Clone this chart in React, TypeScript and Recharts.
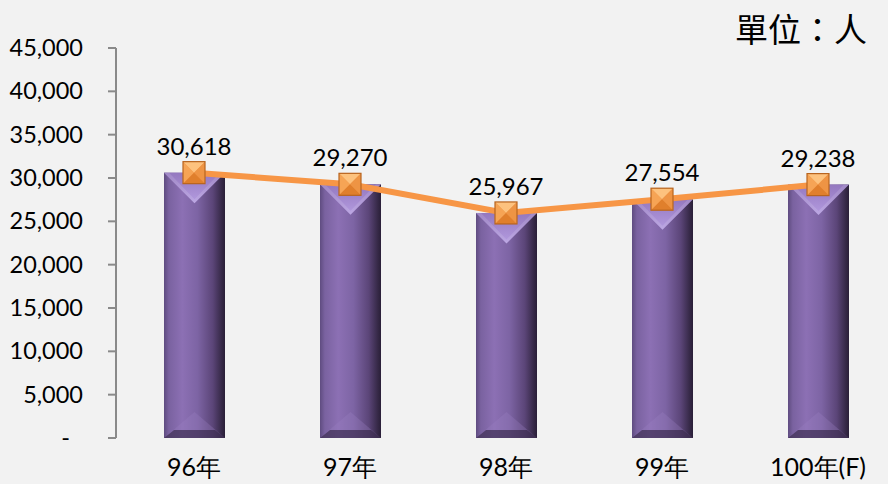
import React from "react";
import { ComposedChart, Bar, Line, XAxis, YAxis, LabelList } from "recharts";

const categories = ["96年", "97年", "98年", "99年", "100年(F)"];
const people = [30618, 29270, 25967, 27554, 29238];
const yTicks = [0, 5000, 10000, 15000, 20000, 25000, 30000, 35000, 40000, 45000];

const data = categories.map((c, i) => ({ name: c, bar: people[i], line: people[i] }));

const FONT = "Lato, 'Noto Sans', sans-serif";

const fmt = (v: number) => v.toLocaleString("en-US");

const YTick = (props: any) => {
  const { x, y, payload } = props;
  const v = payload.value as number;
  if (v === 0) {
    return (
      <text x={x - 13} y={y} dy={8} textAnchor="end" fontFamily={FONT} fontSize={23.5} fill="#000">
        -
      </text>
    );
  }
  return (
    <text x={x} y={y} dy={8} textAnchor="end" fontFamily={FONT} fontSize={23.5} fill="#000">
      {fmt(v)}
    </text>
  );
};

const BarShape = (props: any) => {
  const { x, y, width, height } = props;
  if (!height || height <= 0) return null;
  const b = y + height;
  const tb = Math.min(width * 0.5, 32);
  return (
    <g>
      <rect x={x} y={y} width={width} height={height} fill="url(#barGrad)" />
      <polygon points={`${x},${y} ${x + width},${y} ${x + width / 2},${y + tb}`} fill="url(#topGrad)" />
      <polygon points={`${x},${y} ${x + 5},${y} ${x + width / 2},${y + tb - 4} ${x + width - 5},${y} ${x + width},${y} ${x + width / 2},${y + tb}`} fill="#ffffff" opacity={0.12} />
      <polygon points={`${x},${b} ${x + width / 2},${b - 26} ${x + width},${b}`} fill="#9b82c2" opacity={0.3} />
      <polygon points={`${x},${b} ${x + 10},${b - 8} ${x + width - 10},${b - 8} ${x + width},${b}`} fill="#2e2240" opacity={0.6} />
    </g>
  );
};

const Marker = (props: any) => {
  const { cx, cy } = props;
  if (cx == null || cy == null) return null;
  const h = 11;
  const l = cx - h, r = cx + h, t = cy - h, bt = cy + h;
  return (
    <g>
      <rect x={l} y={t} width={h * 2} height={h * 2} fill="#f09a4c" />
      <polygon points={`${l},${t} ${r},${t} ${cx},${cy}`} fill="#fdc27e" />
      <polygon points={`${l},${t} ${cx},${cy} ${l},${bt}`} fill="#f6a455" />
      <polygon points={`${r},${t} ${cx},${cy} ${r},${bt}`} fill="#ee9444" />
      <polygon points={`${l},${bt} ${cx},${cy} ${r},${bt}`} fill="#e07f2c" />
      <rect x={l} y={t} width={h * 2} height={h * 2} fill="none" stroke="#b8641f" strokeWidth={1.2} />
    </g>
  );
};

export default function App() {
  return (
    <div
      style={{
        position: "absolute",
        left: 0,
        top: 0,
        width: 888,
        height: 484,
        overflow: "hidden",
        background: "#f2f2f2",
      }}
    >
      <div
        style={{
          position: "absolute",
          left: 735,
          top: 4,
          fontFamily: "'Noto Sans CJK TC', sans-serif",
          fontSize: 33,
          color: "#000",
          whiteSpace: "nowrap",
          lineHeight: "48px",
        }}
      >
        單位：人
      </div>
      <ComposedChart
        width={900}
        height={484}
        data={data}
        margin={{ top: 48, right: 4, bottom: 16, left: 0 }}
      >
        <defs>
          <linearGradient id="barGrad" x1="0" y1="0" x2="1" y2="0">
            <stop offset="0" stopColor="#5f4c80" />
            <stop offset="0.08" stopColor="#7a62a0" />
            <stop offset="0.3" stopColor="#8c70b4" />
            <stop offset="0.55" stopColor="#7d64a4" />
            <stop offset="0.8" stopColor="#5b4578" />
            <stop offset="0.95" stopColor="#352846" />
            <stop offset="1" stopColor="#2a1f38" />
          </linearGradient>
          <linearGradient id="topGrad" x1="0" y1="0" x2="0" y2="1">
            <stop offset="0" stopColor="#9478bf" />
            <stop offset="1" stopColor="#b49ce0" />
          </linearGradient>
        </defs>
        <XAxis
          dataKey="name"
          xAxisId="cat"
          height={30}
          axisLine={false}
          tickLine={false}
          tickSize={0}
          tickMargin={20}
          interval={0}
          tick={{ fontFamily: FONT, fontSize: 25, fill: "#000" }}
        />
        <XAxis
          xAxisId="grid"
          type="number"
          domain={[0, 5]}
          ticks={[0, 1, 2, 3, 4, 5]}
          allowDataOverflow
          tick={false}
          tickSize={9}
          height={0}
          axisLine={{ stroke: "#8a8a8a", strokeWidth: 2 }}
          tickLine={{ stroke: "#8a8a8a", strokeWidth: 2 }}
        />
        <YAxis
          width={116}
          domain={[0, 45000]}
          ticks={yTicks}
          interval={0}
          tickSize={8}
          tickMargin={25}
          axisLine={{ stroke: "#8a8a8a", strokeWidth: 2 }}
          tickLine={{ stroke: "#8a8a8a", strokeWidth: 2 }}
          tick={<YTick />}
        />
        <Bar
          dataKey="bar"
          xAxisId="cat"
          barSize={61}
          shape={<BarShape />}
          isAnimationActive={false}
        />
        <Line
          dataKey="line"
          xAxisId="cat"
          stroke="#f79646"
          strokeWidth={6}
          dot={<Marker />}
          activeDot={false}
          isAnimationActive={false}
        >
          <LabelList
            dataKey="line"
            position="top"
            offset={18}
            formatter={(v: any) => fmt(Number(v))}
            style={{ fontFamily: FONT, fontSize: 24, fill: "#000" }}
          />
        </Line>
      </ComposedChart>
    </div>
  );
}
